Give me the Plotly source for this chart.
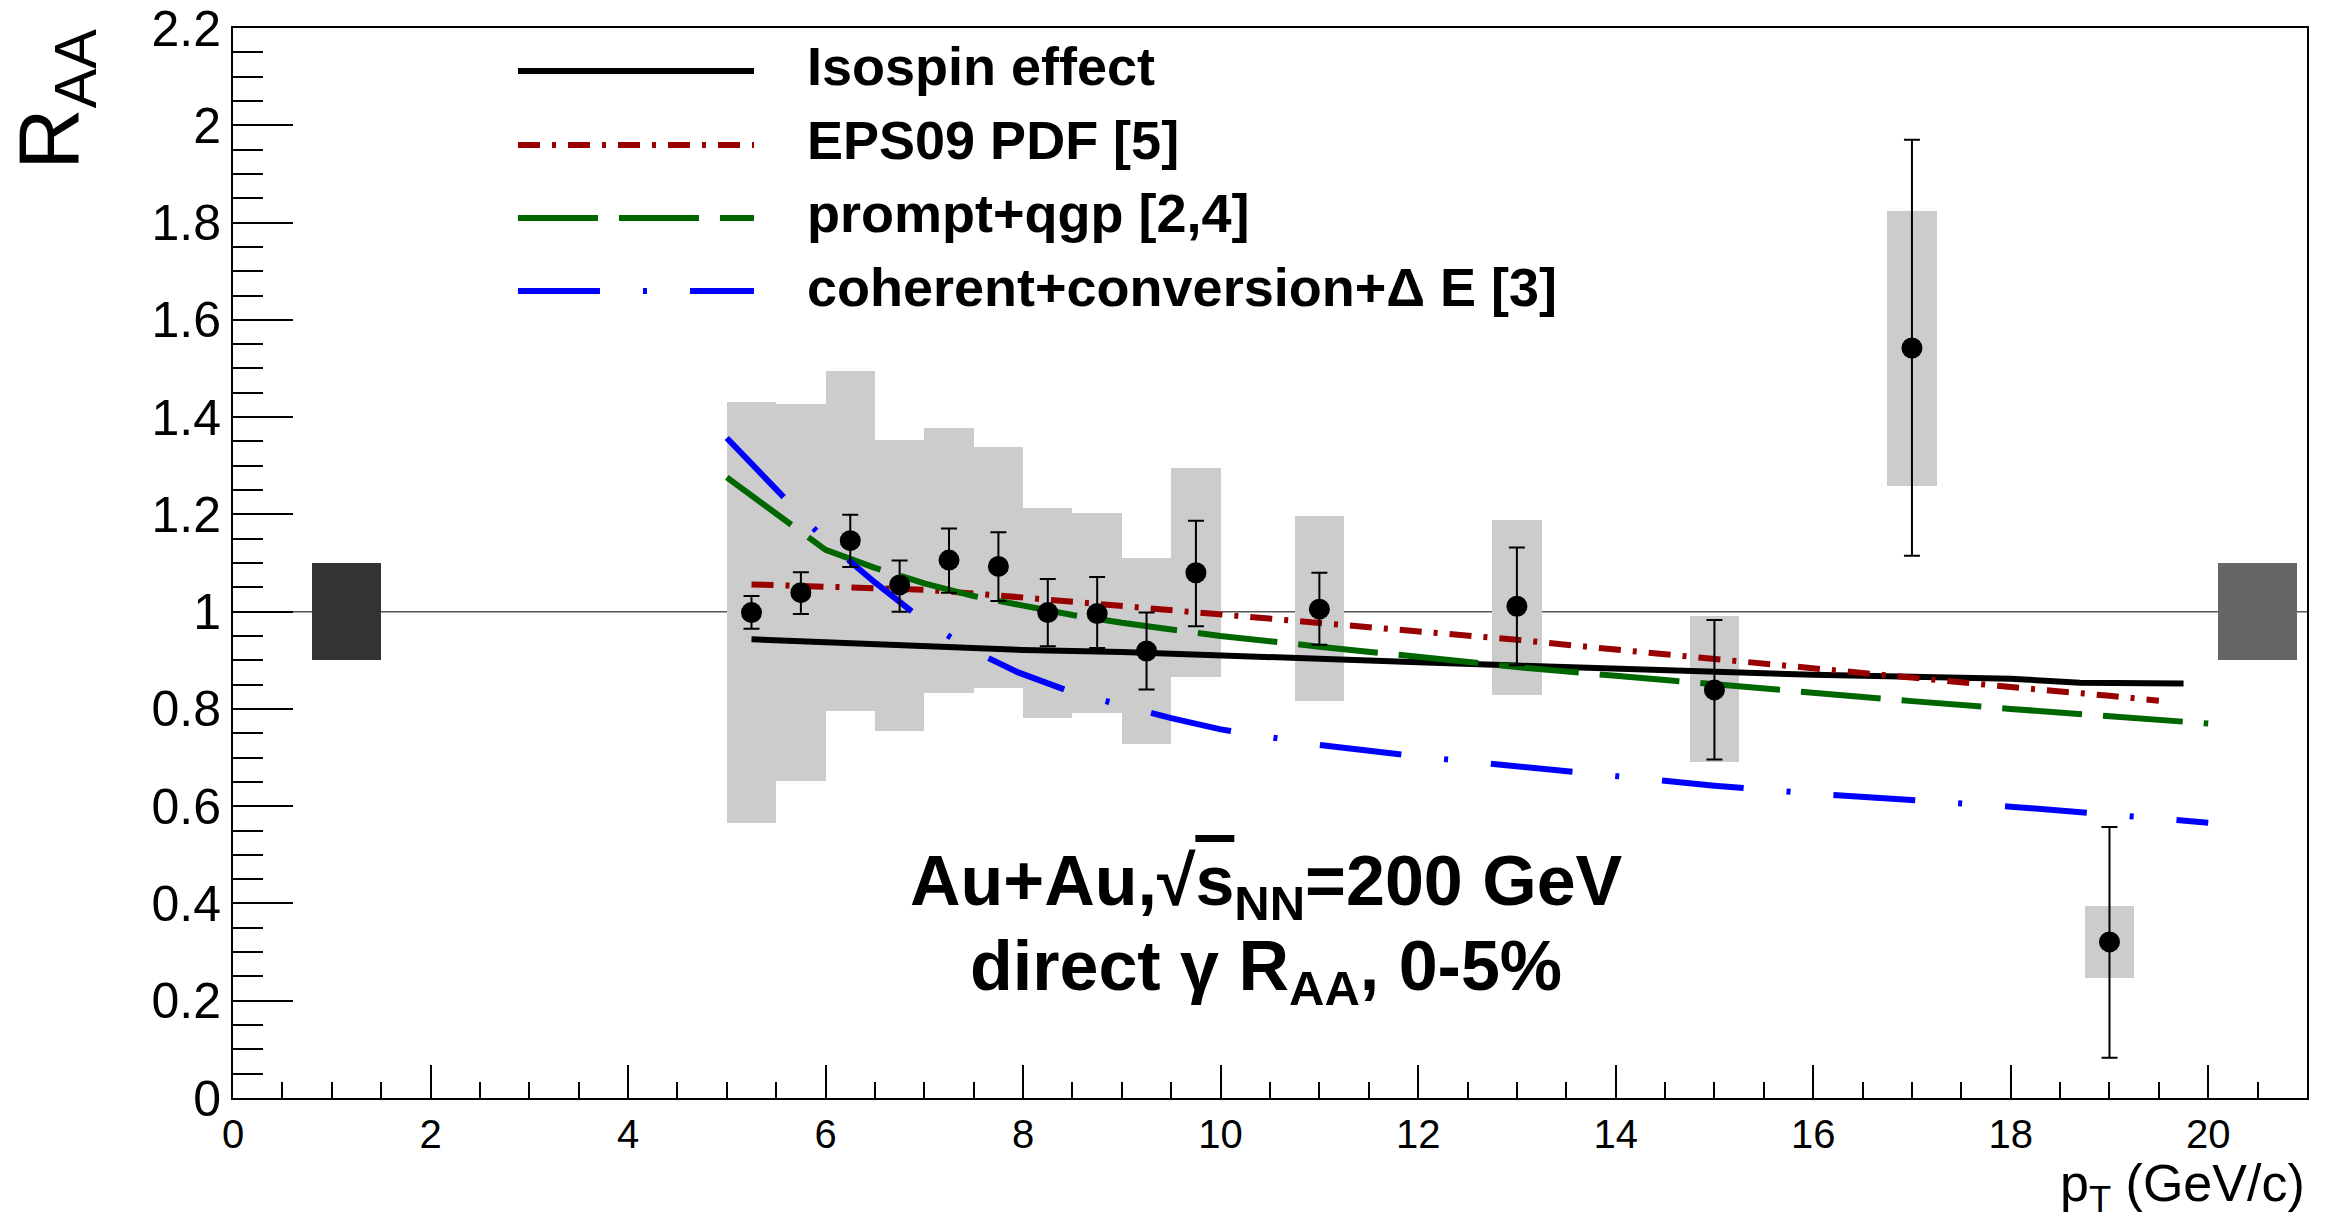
import plotly.graph_objects as go

# ---------------- data ----------------
pt = [5.25, 5.75, 6.25, 6.75, 7.25, 7.75, 8.25, 8.75, 9.25, 9.75, 11, 13, 15, 17, 19]
raa = [0.998, 1.039, 1.146, 1.055, 1.106, 1.093, 0.998, 0.996, 0.919, 1.080, 1.005, 1.011, 0.839, 1.542, 0.321]
stat_hi = [1.032, 1.081, 1.199, 1.105, 1.171, 1.163, 1.067, 1.071, 0.998, 1.187, 1.080, 1.132, 0.983, 1.970, 0.557]
stat_lo = [0.965, 0.995, 1.092, 1.000, 1.039, 1.022, 0.929, 0.925, 0.840, 0.970, 0.932, 0.890, 0.696, 1.115, 0.083]
sys_hi = [1.432, 1.427, 1.495, 1.353, 1.377, 1.338, 1.213, 1.202, 1.110, 1.295, 1.196, 1.189, 0.991, 1.823, 0.394]
sys_lo = [0.565, 0.651, 0.795, 0.754, 0.832, 0.844, 0.781, 0.791, 0.727, 0.865, 0.816, 0.828, 0.690, 1.258, 0.247]
sys_bin_width = [0.5] * len(pt)

norm_x = [1.15, 20.5]
norm_width = [0.7, 0.8]
norm_lo = [0.9, 0.9]
norm_hi = [1.1, 1.1]

iso_x = [5.25, 6, 7, 7.75, 8, 9, 10, 11, 12, 13, 14, 15, 16, 17, 18, 18.7, 19.75]
iso_y = [0.943, 0.937, 0.929, 0.922, 0.921, 0.917, 0.911, 0.904, 0.896, 0.889, 0.882, 0.876, 0.870, 0.866, 0.862, 0.854, 0.852]

eps_x = [5.25, 6, 7, 8, 9, 10, 11, 12, 13, 14, 15, 16, 17, 18, 19, 19.5]
eps_y = [1.056, 1.052, 1.045, 1.029, 1.012, 0.996, 0.978, 0.960, 0.942, 0.922, 0.902, 0.882, 0.862, 0.845, 0.827, 0.817]

qgp_x = [5.0, 5.5, 6.0, 6.5, 7.0, 7.5, 8.0, 8.5, 9.0, 9.5, 10, 11, 12, 13, 14, 15, 16, 17, 18, 19, 20]
qgp_y = [1.276, 1.202, 1.127, 1.090, 1.058, 1.032, 1.012, 0.993, 0.977, 0.963, 0.950, 0.928, 0.906, 0.886, 0.868, 0.850, 0.833, 0.816, 0.800, 0.785, 0.770]

coh_x = [5.0, 5.5, 6.0, 6.5, 7.0, 7.5, 7.95, 8.5, 9.0, 9.5, 10, 11, 12, 13, 14, 15, 16, 17, 18, 19, 20]
coh_y = [1.357, 1.250, 1.146, 1.060, 0.980, 0.919, 0.875, 0.834, 0.806, 0.781, 0.758, 0.726, 0.702, 0.681, 0.661, 0.642, 0.626, 0.613, 0.599, 0.583, 0.566]

legend_names = ["Isospin effect", "EPS09 PDF [5]", "prompt+qgp [2,4]", "coherent+conversion+\u0394 E [3]"]

x_ticks = [0, 2, 4, 6, 8, 10, 12, 14, 16, 18, 20]
y_ticks = [0, 0.2, 0.4, 0.6, 0.8, 1, 1.2, 1.4, 1.6, 1.8, 2, 2.2]
y_tick_text = ["0", "0.2", "0.4", "0.6", "0.8", "1", "1.2", "1.4", "1.6", "1.8", "2", "2.2"]

# ---------------- styles ----------------
FONT = "Liberation Sans, Arial, Helvetica, sans-serif"
curve_styles = [
    dict(color="#000000", dash="solid"),
    dict(color="#990000", dash="22px,12px,4px,12px"),
    dict(color="#006600", dash="80px,21px"),
    dict(color="#0000ff", dash="82px,43px,4px,43px"),
]
LW = 6

fig = go.Figure()

# systematic boxes
fig.add_trace(go.Bar(
    x=pt, y=[h - l for h, l in zip(sys_hi, sys_lo)], base=sys_lo, width=sys_bin_width,
    marker=dict(color="#cccccc", line=dict(width=0)), showlegend=False, hoverinfo="skip"))

# normalization boxes
fig.add_trace(go.Bar(
    x=norm_x, y=[h - l for h, l in zip(norm_hi, norm_lo)], base=norm_lo, width=norm_width,
    marker=dict(color=["#333333", "#666666"], line=dict(width=0)), showlegend=False, hoverinfo="skip"))

curves = [(iso_x, iso_y), (eps_x, eps_y), (qgp_x, qgp_y), (coh_x, coh_y)]
for (cx, cy), st, nm in zip(curves, curve_styles, legend_names):
    fig.add_trace(go.Scatter(x=cx, y=cy, mode="lines", name=nm,
                             line=dict(color=st["color"], width=LW, dash=st["dash"]),
                             showlegend=False))

# data points
fig.add_trace(go.Scatter(
    x=pt, y=raa, mode="markers", showlegend=False,
    marker=dict(size=21, color="black"),
    error_y=dict(type="data", symmetric=False,
                 array=[h - r for h, r in zip(stat_hi, raa)],
                 arrayminus=[r - l for r, l in zip(raa, stat_lo)],
                 color="black", thickness=2, width=8)))

shapes = [dict(type="line", xref="paper", x0=0, x1=1, yref="y", y0=1, y1=1,
               line=dict(color="#555555", width=1.5), layer="below")]
annotations = []

# manual legend
leg_line_y = [0.9598, 0.8907, 0.8224, 0.7542]
leg_text_y = [0.9645, 0.8953, 0.8271, 0.7579]
for nm, st, ly, ty in zip(legend_names, curve_styles, leg_line_y, leg_text_y):
    shapes.append(dict(type="line", xref="paper", yref="paper", x0=0.1374, x1=0.2512,
                       y0=ly, y1=ly, line=dict(color=st["color"], width=LW, dash=st["dash"])))
    annotations.append(dict(xref="paper", yref="paper", x=0.2758, y=ty, xanchor="left",
                            yanchor="middle", showarrow=False, text="<b>%s</b>" % nm,
                            font=dict(family=FONT, size=54, color="black")))

# central label
annotations.append(dict(xref="x", yref="y", x=10.46, y=0.435, xanchor="center", yanchor="middle",
                        showarrow=False,
                        text="<b>Au+Au,\u221a<span style='text-decoration:overline'>s</span><sub>NN</sub>=200 GeV</b>",
                        font=dict(family=FONT, size=70, color="black")))
annotations.append(dict(xref="x", yref="y", x=10.46, y=0.262, xanchor="center", yanchor="middle",
                        showarrow=False,
                        text="<b>direct \u03b3 R<sub>AA</sub>, 0-5%</b>",
                        font=dict(family=FONT, size=70, color="black")))

# axis titles
annotations.append(dict(xref="paper", yref="paper", x=1.0, y=-0.083, xanchor="right", yanchor="middle",
                        showarrow=False, text="p<sub>T</sub> (GeV/c)",
                        font=dict(family=FONT, size=52, color="black")))
annotations.append(dict(xref="paper", yref="paper", x=-0.0858, y=0.933, xanchor="center", yanchor="middle",
                        showarrow=False, text="R<sub>AA</sub>", textangle=-90,
                        font=dict(family=FONT, size=85, color="black")))

fig.update_layout(
    width=2329, height=1220, autosize=False,
    margin=dict(l=233, r=22, t=28, b=122, autoexpand=False),
    paper_bgcolor="white", plot_bgcolor="white",
    font=dict(family=FONT, color="black"),
    barmode="overlay", bargap=0,
    shapes=shapes, annotations=annotations,
    xaxis=dict(range=[0, 21], tickmode="array", tickvals=x_ticks, automargin=False,
               ticks="inside", ticklen=33, tickwidth=2, tickcolor="black",
               minor=dict(ticks="inside", ticklen=16, tickwidth=1.5, tickcolor="black",
                          tickmode="linear", tick0=0, dtick=0.5),
               showline=True, linecolor="black", linewidth=2, mirror=True,
               showgrid=False, zeroline=False, tickfont=dict(family=FONT, size=40)),
    yaxis=dict(range=[0, 2.2], tickmode="array", tickvals=y_ticks, ticktext=y_tick_text,
               automargin=False,
               ticks="inside", ticklen=60, tickwidth=2, tickcolor="black",
               minor=dict(ticks="inside", ticklen=30, tickwidth=1.5, tickcolor="black",
                          tickmode="linear", tick0=0, dtick=0.05),
               showline=True, linecolor="black", linewidth=2, mirror=True,
               showgrid=False, zeroline=False, tickfont=dict(family=FONT, size=50)),
)

fig.write_html("out.html")
